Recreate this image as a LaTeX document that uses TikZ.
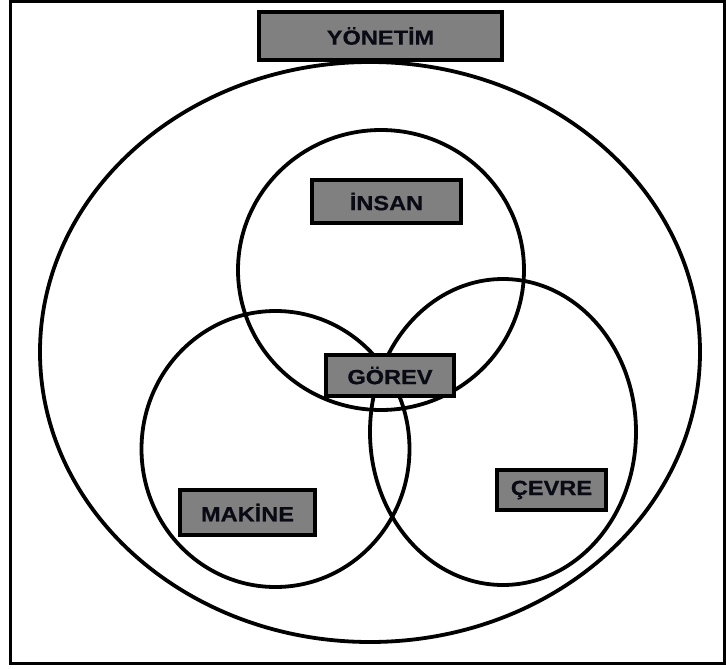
\documentclass[tikz,border=0pt]{standalone}
\usepackage{fontspec}
\setmainfont{Liberation Sans}
\newfontfamily\labelfont[FakeBold=0.6]{Liberation Sans Bold}
\definecolor{boxgray}{RGB}{128,128,128}
\definecolor{labelink}{RGB}{10,10,20}
\tikzset{
  ring/.style={draw=black, line width=3.8pt},
  labelbox/.style={draw=black, line width=4pt, fill=boxgray,
    inner sep=0pt, font=\labelfont\fontsize{20.5}{22}\selectfont, text=labelink},
  frame/.style={draw=black, line width=3pt}
}
\newcommand{\wide}[1]{\scalebox{1.15}[1]{#1}}
\begin{document}
\begin{tikzpicture}[x=1pt,y=-1pt]
\useasboundingbox (0,0) rectangle (726,669);
\draw[frame] (10.5,1.5) rectangle (724.5,663.5);
% circles
\draw[ring] (370,352) ellipse [x radius=330, y radius=290];
\draw[ring] (381,270) ellipse [x radius=143, y radius=140];
\draw[ring] (275.5,449) ellipse [x radius=134, y radius=138];
\draw[ring] (503,432) ellipse [x radius=133, y radius=153];
% boxes
\node[labelbox, minimum width=243pt, minimum height=48pt] (yonetim) at (380.5,36) {\wide{YÖNETİM}};
\node[labelbox, minimum width=149pt, minimum height=43pt] (insan) at (386.5,201.5) {\wide{İNSAN}};
\node[labelbox, minimum width=128pt, minimum height=41pt] (gorev) at (390,375.5) {\wide{GÖREV}};
\node[labelbox, minimum width=135pt, minimum height=45pt] (makine) at (247.5,512.5) {\wide{MAKİNE}};
\node[labelbox, minimum width=109pt, minimum height=40pt] (cevre) at (551.5,490) {\wide{ÇEVRE}};
\end{tikzpicture}
\end{document}
